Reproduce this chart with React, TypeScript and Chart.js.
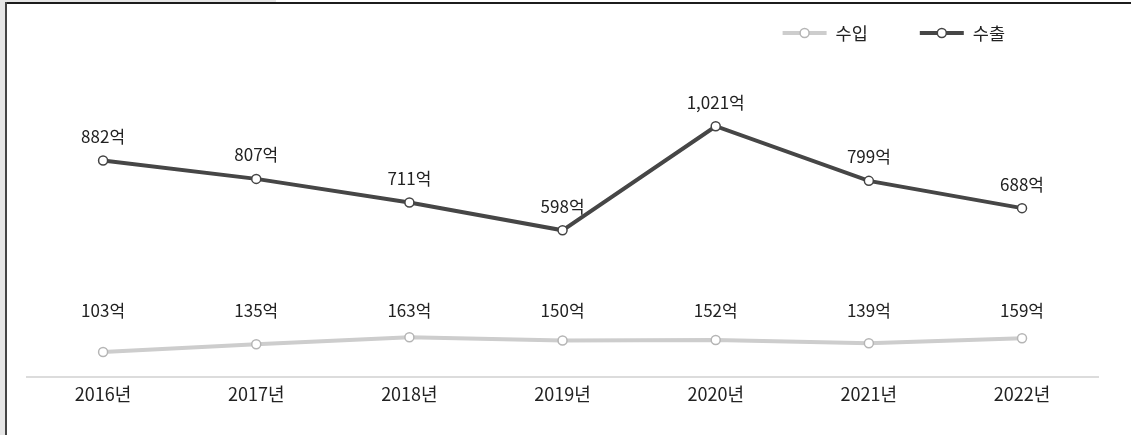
import React, { useEffect, useRef } from 'react';
import { Chart, registerables } from 'chart.js';

Chart.register(...registerables);

const years = ['2016년', '2017년', '2018년', '2019년', '2020년', '2021년', '2022년'];
const importValues = [103, 135, 163, 150, 152, 139, 159];
const exportValues = [882, 807, 711, 598, 1021, 799, 688];
const seriesNames = ['수입', '수출'];
const unit = '억';

const FONT = '"Noto Sans CJK KR", "Noto Sans", sans-serif';
const TEXT = '#222';

const valueLabels = {
  id: 'valueLabels',
  afterDatasetsDraw(chart: any) {
    const ctx = chart.ctx;
    ctx.save();
    ctx.font = `17px ${FONT}`;
    ctx.fillStyle = TEXT;
    ctx.textAlign = 'center';
    ctx.textBaseline = 'middle';
    chart.data.datasets.forEach((ds: any, di: number) => {
      const meta = chart.getDatasetMeta(di);
      const ys = meta.data.map((p: any) => p.y);
      const top = Math.min(...ys);
      meta.data.forEach((pt: any, i: number) => {
        const v = ds.data[i] as number;
        const y = di === 0 ? top - 27 : pt.y - 24;
        ctx.fillText(v.toLocaleString('en-US') + unit, pt.x, y);
      });
    });
    ctx.restore();
  },
};

const customLegend = {
  id: 'customLegend',
  afterDraw(chart: any) {
    const ctx = chart.ctx;
    const area = chart.chartArea;
    ctx.save();
    ctx.font = `17.5px ${FONT}`;
    ctx.textBaseline = 'middle';
    ctx.textAlign = 'left';
    let x = area.right - 316;
    const y = 29;
    chart.data.datasets.forEach((ds: any) => {
      ctx.strokeStyle = ds.borderColor;
      ctx.lineWidth = 4;
      ctx.beginPath();
      ctx.moveTo(x, y);
      ctx.lineTo(x + 44, y);
      ctx.stroke();
      ctx.beginPath();
      ctx.arc(x + 22, y, 4.5, 0, Math.PI * 2);
      ctx.fillStyle = '#fff';
      ctx.fill();
      ctx.lineWidth = 1.5;
      ctx.strokeStyle = ds.pointBorderColor;
      ctx.stroke();
      ctx.fillStyle = TEXT;
      ctx.fillText(ds.label, x + 53, y);
      const w = ctx.measureText(ds.label).width;
      x += 53 + w + 52;
    });
    ctx.restore();
  },
};

export default function App() {
  const ref = useRef<HTMLCanvasElement | null>(null);

  useEffect(() => {
    if (!ref.current) return;
    const chart = new Chart(ref.current, {
      type: 'line',
      data: {
        labels: years,
        datasets: [
          {
            label: seriesNames[0],
            data: importValues,
            borderColor: '#cdcdcd',
            borderWidth: 4,
            pointBackgroundColor: '#fff',
            pointBorderColor: '#b5b5b5',
            pointBorderWidth: 1.5,
            pointRadius: 4.5,
            tension: 0,
          },
          {
            label: seriesNames[1],
            data: exportValues,
            borderColor: '#464646',
            borderWidth: 4,
            pointBackgroundColor: '#fff',
            pointBorderColor: '#444',
            pointBorderWidth: 1.5,
            pointRadius: 4.5,
            tension: 0,
          },
        ],
      },
      options: {
        animation: false,
        responsive: false,
        devicePixelRatio: 1,
        layout: { padding: { left: 19.5, right: 32.4, top: 29, bottom: 24 } },
        plugins: {
          legend: { display: false },
          tooltip: { enabled: false },
        },
        scales: {
          x: {
            offset: true,
            grid: { display: false, drawTicks: false },
            border: { display: true, color: '#dcdcdc', width: 2 },
            ticks: {
              color: TEXT,
              padding: 6,
              font: { family: FONT, size: 18 },
            },
          },
          y: {
            display: false,
            min: 0,
            max: 1400,
          },
        },
      },
      plugins: [valueLabels, customLegend],
    });
    return () => chart.destroy();
  }, []);

  return (
    <div style={{ position: 'absolute', left: 0, top: 0, width: 1131, height: 435, background: '#fff', overflow: 'hidden' }}>
      <div style={{ position: 'absolute', left: 0, top: 0, width: 5, height: 435, background: '#e6e6e6' }} />
      <div style={{ position: 'absolute', left: 0, top: 0, width: 276, height: 2, background: '#e6e6e6' }} />
      <div style={{ position: 'absolute', left: 5, top: 2, width: 1126, height: 2, background: '#1c1c1c' }} />
      <div style={{ position: 'absolute', left: 5, top: 2, width: 2, height: 433, background: '#444' }} />
      <canvas ref={ref} width={1124} height={431} style={{ position: 'absolute', left: 7, top: 4, width: 1124, height: 431 }} />
    </div>
  );
}
